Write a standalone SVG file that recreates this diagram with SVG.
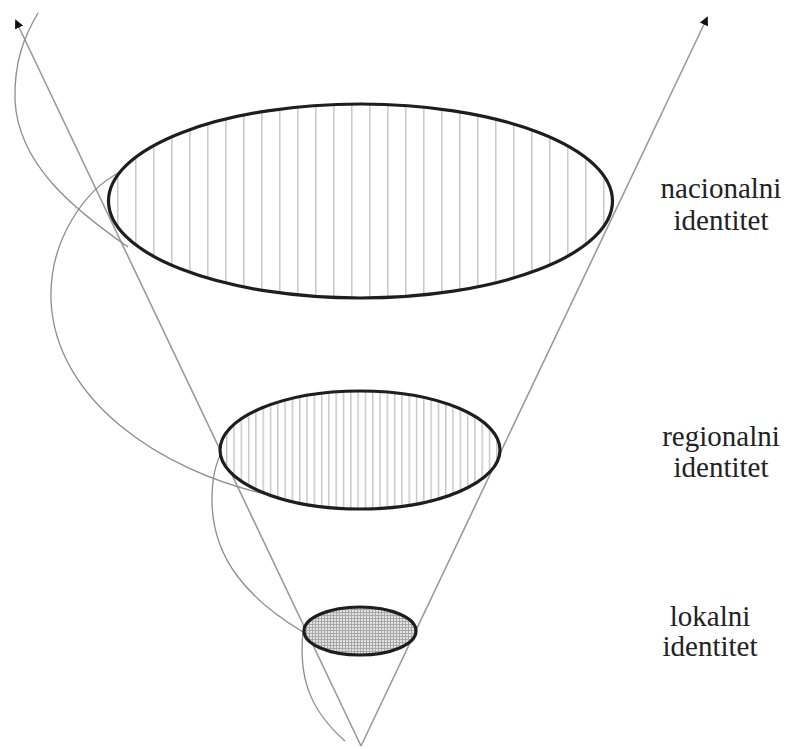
<svg xmlns="http://www.w3.org/2000/svg" width="787" height="749" viewBox="0 0 787 749">
<style>
.cone{fill:none;stroke:#9a9a9a;stroke-width:1.6}
.spiral{fill:none;stroke:#8c8c8c;stroke-width:1.3}
.ring{stroke:#1e1e1e;stroke-width:3.2}
.lbl{font-family:"Liberation Serif","DejaVu Serif","Noto Serif",Tinos,"Times New Roman",Times,"Nimbus Roman","FreeSerif",serif;font-size:29px;fill:#222;text-anchor:middle}
</style>
<defs>
<marker id="arr" viewBox="0 0 10 10" refX="8" refY="5" markerWidth="9" markerHeight="9" markerUnits="userSpaceOnUse" orient="auto">
<path d="M0,0 L10,5 L0,10 z" fill="#111"/>
</marker>
<pattern id="hatchBig" patternUnits="userSpaceOnUse" x="117" y="0" width="18" height="10">
<rect width="18" height="10" fill="#fff"/>
<line x1="0.8" y1="0" x2="0.8" y2="10" stroke="#c9c9c9" stroke-width="1.5"/>
</pattern>
<pattern id="hatchMid" patternUnits="userSpaceOnUse" x="226" y="0" width="7.3" height="10">
<rect width="7.3" height="10" fill="#fff"/>
<line x1="0.7" y1="0" x2="0.7" y2="10" stroke="#c4c4c4" stroke-width="1.4"/>
</pattern>
<pattern id="hatchSmall" patternUnits="userSpaceOnUse" width="3" height="3">
<rect width="3" height="3" fill="#e2e2e2"/>
<path d="M0,0.5 H3 M0.5,0 V3" stroke="#a8a8a8" stroke-width="1"/>
</pattern>
</defs>
<rect width="787" height="749" fill="#fff"/>
<g id="connectors">
<line class="cone" x1="361" y1="746" x2="16" y2="21" marker-end="url(#arr)"/>
<line class="cone" x1="361" y1="746" x2="707" y2="18" marker-end="url(#arr)"/>
<path class="spiral" d="M345,741 C312,712 298,680 303,632"/>
<path class="spiral" d="M303,632 C250,600 212,560 212,500 C212,478 216,462 222,452"/>
<path class="spiral" d="M265,494 C160,470 55,400 51,300 C49,240 85,190 120,172"/>
<path class="spiral" d="M128,247 C75,210 18,165 15,100 C14,60 25,35 38,13"/>
</g>
<g id="node-nacionalni">
<ellipse class="ring" cx="360.5" cy="201" rx="252" ry="97" fill="url(#hatchBig)"/>
<text class="lbl" x="721" y="198">nacionalni</text>
<text class="lbl" x="721" y="230">identitet</text>
</g>
<g id="node-regionalni">
<ellipse class="ring" cx="360" cy="450" rx="140" ry="59" fill="url(#hatchMid)"/>
<text class="lbl" x="721" y="446">regionalni</text>
<text class="lbl" x="721" y="477">identitet</text>
</g>
<g id="node-lokalni">
<ellipse class="ring" cx="360" cy="631" rx="56" ry="24" fill="url(#hatchSmall)"/>
<text class="lbl" x="710" y="626">lokalni</text>
<text class="lbl" x="710" y="656">identitet</text>
</g>
</svg>
